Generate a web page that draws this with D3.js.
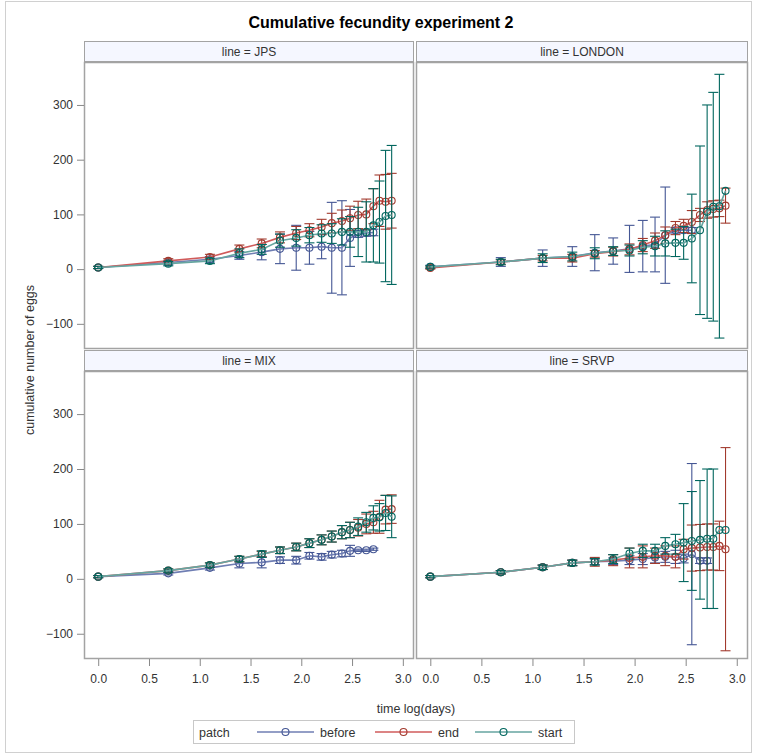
<!DOCTYPE html>
<html><head><meta charset="utf-8">
<script src="https://cdn.jsdelivr.net/npm/d3@7"></script>
<style>
html,body{margin:0;padding:0;background:#fff;}
text{font-family:"Liberation Sans",Arial,sans-serif;}
</style></head>
<body>
<svg id="chart" width="761" height="755"></svg>
<script>
// ---------------- data ----------------
const logDays = [0,0.69,1.10,1.39,1.61,1.79,1.95,2.08,2.20,2.30,2.40,2.48,2.56,2.64,2.71,2.77,2.83,2.89];
const lines = ["JPS","LONDON","MIX","SRVP"];
const patches = ["before","end","start"];
const xTicks = [0,0.5,1,1.5,2,2.5,3];
const yTicks = [-100,0,100,200,300];

const jpsBefore = [3,12,18,25,31,37,39,39,41,39,39,57,64,66,67];
const jpsBeforeErr = [2,4,5,7,14,27,41,30,22,83,86,52,6,6,6];
const jpsEnd = [3,15,22,37,47,58,66,71,77,84,88,93,99,100,115,125,123,125];
const jpsEndErr = [2,4,5,7,8,10,12,12,14,18,20,22,25,28,32,47,50,50];
const jpsStart = [3,10,15,29,36,52,57,62,65,65,68,68,68,68,80,86,97,99];
const jpsStartErr = [2,4,5,8,9,12,15,14,16,18,24,28,45,55,67,75,120,127];

const londonBefore = [4,13,20,23,30,33,37,42,45,62,71,71,71];
const londonBeforeErr = [3,8,15,18,33,24,43,47,50,88,5,5,5];
const londonEnd = [2,13,20,20,28,32,36,44,52,62,75,79,86,99,108,110,111,116];
const londonEndErr = [2,4,5,7,6,8,10,12,14,15,12,12,21,12,15,15,15,32];
const londonStart = [4,13,20,23,29,33,34,40,42,47,48,48,56,71,105,114,115,143];
const londonStartErr = [2,5,8,8,10,8,10,12,18,23,25,30,81,154,195,209,241,0];

const mixBefore = [4,10,20,28,30,34,34,42,40,44,46,51,52,52,54];
const mixBeforeErr = [2,3,4,8,10,6,7,6,6,6,6,10,2,2,2];
const mixEnd = [4,15,25,36,45,52,58,65,71,77,85,89,93,100,103,113,126,127];
const mixEndErr = [2,3,4,5,5,6,7,8,9,10,12,14,15,18,20,30,26,26];
const mixStart = [4,15,25,36,45,52,58,65,71,77,85,89,95,103,111,112,120,113];
const mixStartErr = [2,3,4,5,6,6,7,8,9,10,12,14,16,18,22,25,32,38];

const srvpBefore = [4,12,21,29,31,32,34,36,39,40,40,37,45,33,33];
const srvpBeforeErr = [2,3,4,5,5,6,8,10,10,10,12,8,165,5,5];
const srvpEnd = [4,12,21,29,31,34,38,40,42,42,40,54,56,57,58,58,60,54];
const srvpEndErr = [2,3,4,5,8,10,18,20,14,18,20,18,42,42,42,42,45,185];
const srvpStart = [4,12,21,29,31,36,46,51,51,60,63,66,69,71,73,73,89,89];
const srvpStartErr = [2,3,4,5,6,8,10,12,12,15,18,71,90,108,127,127,0,0];

const seriesByLine = {
  JPS:    {before:[jpsBefore,jpsBeforeErr], end:[jpsEnd,jpsEndErr], start:[jpsStart,jpsStartErr]},
  LONDON: {before:[londonBefore,londonBeforeErr], end:[londonEnd,londonEndErr], start:[londonStart,londonStartErr]},
  MIX:    {before:[mixBefore,mixBeforeErr], end:[mixEnd,mixEndErr], start:[mixStart,mixStartErr]},
  SRVP:   {before:[srvpBefore,srvpBeforeErr], end:[srvpEnd,srvpEndErr], start:[srvpStart,srvpStartErr]}
};

// ---------------- styles ----------------
const lineColor = {before:"#6F7EB3", end:"#D05B5B", start:"#66A5A0"};
const markColor = {before:"#445694", end:"#A23A2E", start:"#01665E"};
const textColor = "#333";
const borderColor = "#a3a3a3";

const svg = d3.select("#chart");
// outer frame
svg.append("rect").attr("x",5.5).attr("y",1.5).attr("width",746).attr("height",751)
  .attr("fill","none").attr("stroke","#d0d0d0");

svg.append("text").attr("x",381).attr("y",28).attr("text-anchor","middle")
  .attr("font-size","16px").attr("font-weight","bold").attr("fill","#000")
  .text("Cumulative fecundity experiment 2");

const colX = [[84,414],[416,748]];
const rowY = [[62,349],[371,659]];
const stripH = 20;

lines.forEach((ln,i)=>{
  const c = i%2, r = Math.floor(i/2);
  const [x0,x1] = colX[c], [y0,y1] = rowY[r];
  const x = d3.scaleLinear().domain([-0.14,3.11]).range([x0,x1]);
  const y = d3.scaleLinear().domain([-146,378.5]).range([y1,y0]);
  const g = svg.append("g");

  // strip
  g.append("rect").attr("x",x0+0.5).attr("y",y0-stripH-1+0.5).attr("width",x1-x0-1).attr("height",stripH)
    .attr("fill","#f5f7ff").attr("stroke",borderColor).attr("stroke-width",1);
  g.append("text").attr("x",(x0+x1)/2).attr("y",y0-stripH/2+3.5).attr("text-anchor","middle")
    .attr("font-size","12px").attr("fill",textColor).text("line = "+ln);

  // clip
  const clipId = "clip"+i;
  svg.append("clipPath").attr("id",clipId).append("rect")
    .attr("x",x0).attr("y",y0).attr("width",x1-x0).attr("height",y1-y0);
  const pg = g.append("g").attr("clip-path","url(#"+clipId+")");

  patches.forEach(p=>{
    const [vals,errs] = seriesByLine[ln][p];
    const pts = vals.map((v,k)=>({x:logDays[k], v:v, e:errs[k]}));
    // error bars
    const eb = pg.append("g").attr("stroke",markColor[p]).attr("stroke-width",1.1).attr("fill","none");
    pts.filter(d=>d.e>0).forEach(d=>{
      const cx = x(d.x), yt = y(d.v+d.e), yb = y(d.v-d.e);
      eb.append("line").attr("x1",cx).attr("x2",cx).attr("y1",yt).attr("y2",yb);
      eb.append("line").attr("x1",cx-5).attr("x2",cx+5).attr("y1",yt).attr("y2",yt);
      eb.append("line").attr("x1",cx-5).attr("x2",cx+5).attr("y1",yb).attr("y2",yb);
    });
    // series line
    pg.append("path").datum(pts)
      .attr("d",d3.line().x(d=>x(d.x)).y(d=>y(d.v)))
      .attr("fill","none").attr("stroke",lineColor[p]).attr("stroke-width",1.6);
    // markers
    pg.append("g").selectAll("circle").data(pts).join("circle")
      .attr("cx",d=>x(d.x)).attr("cy",d=>y(d.v)).attr("r",3.5)
      .attr("fill","none").attr("stroke",markColor[p]).attr("stroke-width",1.1);
  });

  // panel border
  g.append("rect").attr("x",x0+0.5).attr("y",y0+0.5).attr("width",x1-x0-1).attr("height",y1-y0-1)
    .attr("fill","none").attr("stroke",borderColor).attr("stroke-width",1.5);

  // axes
  if (c===0) {
    const ay = svg.append("g").attr("transform",`translate(${x0},0)`)
      .call(d3.axisLeft(y).tickValues(yTicks).tickSize(7).tickPadding(4).tickFormat(d3.format("d")));
    ay.select(".domain").remove();
    ay.selectAll("line").attr("stroke","#888");
    ay.selectAll("text").attr("font-size","12px").attr("fill",textColor).attr("font-family","Liberation Sans, Arial, sans-serif");
  }
  if (r===1) {
    const ax = svg.append("g").attr("transform",`translate(0,${y1})`)
      .call(d3.axisBottom(x).tickValues(xTicks).tickSize(7).tickPadding(8).tickFormat(d3.format(".1f")));
    ax.select(".domain").remove();
    ax.selectAll("line").attr("stroke","#888");
    ax.selectAll("text").attr("font-size","12px").attr("fill",textColor).attr("font-family","Liberation Sans, Arial, sans-serif");
  }
});

// axis titles
svg.append("text").attr("transform","translate(34,360) rotate(-90)").attr("text-anchor","middle")
  .attr("font-size","12.5px").attr("fill",textColor).text("cumulative number of eggs");
svg.append("text").attr("x",416).attr("y",713).attr("text-anchor","middle")
  .attr("font-size","12.5px").attr("fill",textColor).text("time log(days)");

// legend
const lg = svg.append("g");
lg.append("rect").attr("x",193.5).attr("y",720.5).attr("width",381).attr("height",23)
  .attr("fill","#fff").attr("stroke","#c8c8c8");
lg.append("text").attr("x",199).attr("y",737).attr("font-size","12.5px").attr("fill",textColor).text("patch");
const legPos = {before:257, end:375, start:475};
patches.forEach(p=>{
  const lx = legPos[p];
  lg.append("line").attr("x1",lx).attr("x2",lx+57).attr("y1",732).attr("y2",732)
    .attr("stroke",lineColor[p]).attr("stroke-width",1.6);
  lg.append("circle").attr("cx",lx+28.5).attr("cy",732).attr("r",3.5)
    .attr("fill","none").attr("stroke",markColor[p]).attr("stroke-width",1.1);
  lg.append("text").attr("x",lx+63).attr("y",737).attr("font-size","12.5px").attr("fill",textColor).text(p);
});
</script>
</body></html>
